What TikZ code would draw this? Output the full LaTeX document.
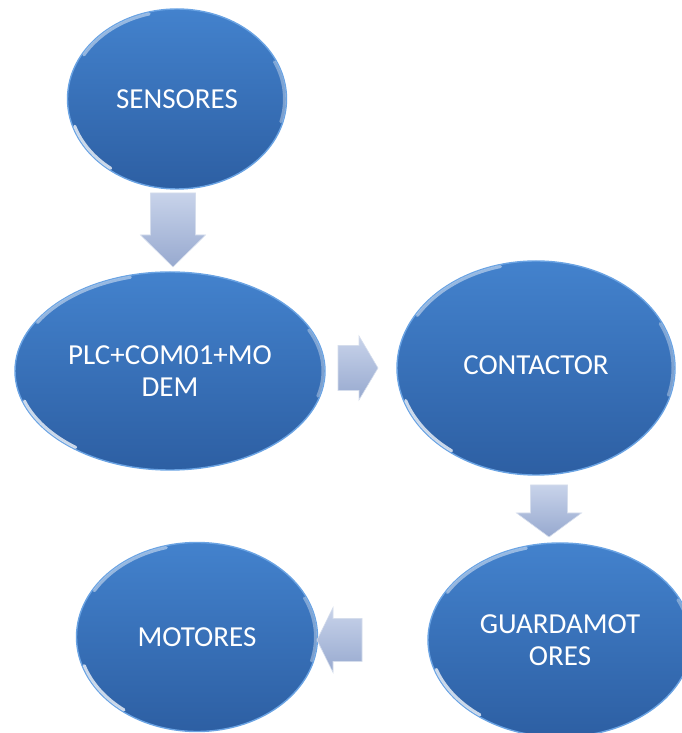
\documentclass[tikz,border=0pt]{standalone}
\usepackage{fontspec}
\setmainfont{Carlito}
\usetikzlibrary{shapes.geometric}

\definecolor{bluetop}{HTML}{4382CD}
\definecolor{bluebot}{HTML}{2D5FA3}
\definecolor{bluerim}{HTML}{6AA3E3}
\definecolor{arrtop}{HTML}{C8D3EA}
\definecolor{arrbot}{HTML}{97A9CF}

\tikzset{
  bubble/.style={ellipse, inner sep=0pt, top color=bluetop, bottom color=bluebot,
    draw=bluerim, line width=1.4pt, text=white, align=center,
    font=\fontsize{29}{32}\selectfont},
  blockarrow/.style={top color=arrtop, bottom color=arrbot, draw=white!60!arrbot,
    line width=0.6pt, line join=miter},
  gloss/.style={white, opacity=0.45, line width=3pt, line cap=round}
}

% glossy streaks along the rim of an ellipse node: #1 name, #2 x radius, #3 y radius
\newcommand{\rimgloss}[3]{%
  \draw[gloss] ([shift={(105:#2-2 and #3-2)}]#1.center)
    arc[start angle=105, end angle=150, x radius=#2-2, y radius=#3-2];
  \draw[gloss, opacity=0.75] ([shift={(198:#2-2 and #3-2)}]#1.center)
    arc[start angle=198, end angle=232, x radius=#2-2, y radius=#3-2];
  \draw[gloss, opacity=0.35] ([shift={(-15:#2-2 and #3-2)}]#1.center)
    arc[start angle=-15, end angle=25, x radius=#2-2, y radius=#3-2];
}

% block arrow: #1 origin, #2 direction angle, #3 length, #4 shaft width, #5 head width, #6 head length
\newcommand{\flowarrow}[6]{%
  \begin{scope}[shift={#1}, rotate=#2]
    \path[blockarrow] (0,-#4/2) -- (#3-#6,-#4/2) -- (#3-#6,-#5/2) -- (#3,0)
      -- (#3-#6,#5/2) -- (#3-#6,#4/2) -- (0,#4/2) -- cycle;
  \end{scope}
}

\begin{document}
\begin{tikzpicture}[x=1pt, y=1pt]
  \useasboundingbox (0,0) rectangle (682,733);

  % process stages
  \node[bubble, minimum width=219pt, minimum height=180pt] (sens) at (177,634) {SENSORES};
  \node[bubble, minimum width=310pt, minimum height=198pt] (plc) at (170,362) {PLC+COM01+MO\\DEM};
  \node[bubble, minimum width=278pt, minimum height=214pt] (cont) at (536,365) {\raisebox{5pt}{CONTACTOR}};
  \node[bubble, minimum width=264pt, minimum height=194pt] (guard) at (560,93) {GUARDAMOT\\ORES};
  \node[bubble, minimum width=241pt, minimum height=189pt] (mot) at (197,96) {MOTORES};

  \rimgloss{sens}{109.5}{90}
  \rimgloss{plc}{155}{99}
  \rimgloss{cont}{139}{107}
  \rimgloss{guard}{132}{97}
  \rimgloss{mot}{120.5}{94.5}

  % flow arrows between the stages
  \flowarrow{(173,540)}{-90}{74}{45}{65}{32}
  \flowarrow{(338,365)}{0}{40}{45}{64}{19}
  \flowarrow{(549,248)}{-90}{52}{37}{65}{24}
  \flowarrow{(362,93)}{180}{45}{43}{65}{16}
\end{tikzpicture}
\end{document}
